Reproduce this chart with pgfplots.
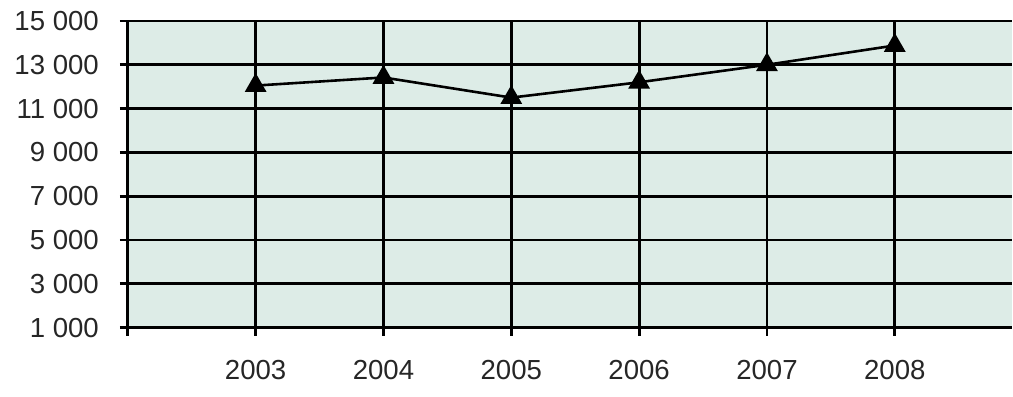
\documentclass[border=0pt]{standalone}
\usepackage{pgfplots}
\pgfplotsset{compat=1.18}
\usepackage{fontspec}
\setmainfont{Liberation Sans}
\definecolor{mint}{RGB}{221,236,231}
\begin{document}
\begin{tikzpicture}
\begin{axis}[
  scale only axis,
  width=442.5pt, height=153.5pt,
  xmin=-1, xmax=5.914,
  ymin=1000, ymax=15000,
  scaled y ticks=false,
  axis x line*=bottom, axis y line*=left,
  axis line style={line width=1.4pt, black},
  axis background/.style={fill=mint},
  xtick={-1,0,1,2,3,4,5},
  xticklabels={,2003,2004,2005,2006,2007,2008},
  ytick={1000,3000,5000,7000,9000,11000,13000,15000},
  yticklabels={1 000,3 000,5 000,7 000,9 000,11 000,13 000,15 000},
  tick align=outside,
  major tick length=4pt,
  tick style={line width=1.4pt, black},
  grid=major,
  grid style={line width=1.4pt, black},
  ticklabel style={font=\fontsize{13.8}{16}\selectfont, text=black!85},
  yticklabel style={xshift=-7pt},
  xticklabel style={yshift=-9pt},
  /pgf/number format/assume math mode=true,
  clip=false,
]
\addplot[black, line width=1.3pt, mark=triangle*, mark size=5pt,
  mark options={solid, fill=black}] coordinates {
  (0,12050) (1,12420) (2,11500) (3,12200) (4,13000) (5,13880)
};
\end{axis}
\path ([xshift=-64pt,yshift=-34.5pt]current axis.south west) rectangle ([yshift=10.5pt]current axis.north east);
\end{tikzpicture}
\end{document}
